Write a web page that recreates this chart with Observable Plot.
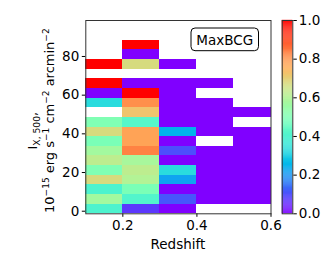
<!DOCTYPE html>
<html><head><meta charset="utf-8">
<script src="https://cdn.jsdelivr.net/npm/d3@7"></script>
<script src="https://cdn.jsdelivr.net/npm/@observablehq/plot@0.6"></script>
<style>
body{margin:0;background:#fff;}
#wrap{position:relative;width:332px;height:266px;font-family:"DejaVu Sans",sans-serif;}
#wrap svg{position:absolute;left:0;top:0;overflow:visible;}
</style></head><body><div id="wrap"></div>
<script>
// ---- data ----
const xEdges = [0.1, 0.2, 0.3, 0.4, 0.5, 0.6];
const yEdges = [-1.34, 3.65, 8.63, 13.62, 18.6, 23.59, 28.57, 33.56, 38.54, 43.53, 48.51, 53.5, 58.48, 63.47, 68.45, 73.44, 78.42, 83.41, 88.4];
// values per redshift column, rows from bottom to top (null = empty)
const col1 = [0.40, 0.57, 0.40, 0.67, 0.50, 0.62, 0.57, 0.49, 0.67, 0.50, null, 0.33, 0.0, 1.0, null, 1.0, null, null];
const col2 = [0.07, 0.41, 0.49, 0.60, 0.62, 0.58, 0.83, 0.78, 0.78, 0.42, 0.72, 0.81, 1.0, 0.0, null, 0.67, 0.0, 1.0];
const col3 = [0.0, 0.11, 0.0, 0.22, 0.33, 0.0, 0.10, 0.0, 0.25, 0.0, 0.0, 0.0, 0.0, 0.0, null, 0.0, null, null];
const col4 = [null, 0, 0, 0, 0, 0, 0, null, 0, 0, 0, 0, null, 0, null, null, null, null];
const col5 = [null, 0, 0, 0, 0, 0, 0, 0, 0, null, 0, null, null, null, null, null, null, null];
const columns = [col1, col2, col3, col4, col5];
const xTicks = [0.2, 0.4, 0.6];
const yTicks = [0, 20, 40, 60, 80];
const cbarTicks = [0, 0.2, 0.4, 0.6, 0.8, 1.0];
const xDomain = [0.1, 0.6];
const yDomain = [-1.34, 98.6];
const panelLabel = "MaxBCG";
const xLabel = "Redshift";

// matplotlib "rainbow" colormap
function rainbow(t) {
  t = Math.max(0, Math.min(1, t));
  const r = Math.min(1, Math.abs(2 * t - 0.5));
  const g = Math.max(0, Math.sin(Math.PI * t));
  const b = Math.max(0, Math.cos(Math.PI * t / 2));
  return `rgb(${Math.round(r * 255)},${Math.round(g * 255)},${Math.round(b * 255)})`;
}

const cells = [];
columns.forEach((col, i) => col.forEach((v, j) => {
  if (v != null) cells.push({x1: xEdges[i], x2: xEdges[i + 1], y1: yEdges[j], y2: yEdges[j + 1], v});
}));

const W = 332, H = 266, L = 85.3, R = 270.5, T = 20, B = 213.3;
const FONT = "'DejaVu Sans', sans-serif";
const colorOpts = {type: "linear", domain: [0, 1], interpolate: rainbow};

const main = Plot.plot({
  width: W, height: H,
  marginLeft: L, marginRight: W - R, marginTop: T, marginBottom: H - B,
  style: {fontFamily: FONT, fontSize: "13.5px", background: "transparent", color: "#000", overflow: "visible"},
  x: {domain: xDomain, ticks: xTicks, tickFormat: d3.format(".1f"), tickSize: 3.5, tickPadding: 3, label: null},
  y: {domain: yDomain, ticks: yTicks, tickSize: 3.5, tickPadding: 3, label: null},
  color: colorOpts,
  marks: [
    Plot.rect(cells, {x1: "x1", x2: "x2", y1: "y1", y2: "y2", fill: "v", inset: 0, shapeRendering: "crispEdges"}),
    Plot.frame({stroke: "#333", strokeWidth: 1})
  ]
});

const cbStops = d3.range(0, 1, 0.005);
const cbar = Plot.plot({
  width: W, height: H,
  marginLeft: 281.7, marginRight: W - 292.3, marginTop: T, marginBottom: H - B,
  style: {fontFamily: FONT, fontSize: "13.5px", background: "transparent", color: "#000", overflow: "visible"},
  x: {domain: [0, 1], axis: null},
  y: {domain: [0, 1], axis: "right", ticks: cbarTicks, tickFormat: d3.format(".1f"), tickSize: 3.5, tickPadding: 2.5, label: null},
  color: colorOpts,
  marks: [
    Plot.rect(cbStops, {x1: 0, x2: 1, y1: d => d, y2: d => d + 0.006, fill: d => d + 0.0025, inset: 0}),
    Plot.frame({stroke: "#333", strokeWidth: 1})
  ]
});

const wrap = document.getElementById("wrap");
wrap.appendChild(main);
wrap.appendChild(cbar);

const svg = d3.select(main);
// x label
svg.append("text").attr("x", (L + R) / 2).attr("y", 249).attr("text-anchor", "middle")
  .attr("font-family", FONT).attr("font-size", 13.5).attr("fill", "#000").text(xLabel);

// y label (two lines, rotated)
const yc = (T + B) / 2;
const l1 = svg.append("text").attr("transform", `translate(37,${yc + 14}) rotate(-90)`).attr("text-anchor", "middle")
  .attr("font-family", FONT).attr("font-size", 13).attr("fill", "#000");
l1.append("tspan").text("I");
l1.append("tspan").attr("font-size", 9.2).attr("dy", 3).text("X, 500");
l1.append("tspan").attr("dy", -3).text(",");

const l2 = svg.append("text").attr("transform", `translate(54,${yc + 4}) rotate(-90)`).attr("text-anchor", "middle")
  .attr("font-family", FONT).attr("font-size", 13).attr("fill", "#000");
const parts = [["10", false], ["−15", true], [" erg s", false], ["−1", true], [" cm", false], ["−2", true], [" arcmin", false], ["−2", true]];
let up = false;
for (const [s, sup] of parts) {
  const t = l2.append("tspan").text(s);
  if (sup) { t.attr("font-size", 9); if (!up) { t.attr("dy", -5); up = true; } }
  else { if (up) { t.attr("dy", 5); up = false; } }
}

// panel label box
const bx = 191, by = 28, bw = 67.5, bh = 22.7;
svg.append("rect").attr("x", bx).attr("y", by).attr("width", bw).attr("height", bh)
  .attr("rx", 4).attr("fill", "#fff").attr("stroke", "#000").attr("stroke-width", 1);
svg.append("text").attr("x", bx + bw / 2).attr("y", by + 16.5).attr("text-anchor", "middle")
  .attr("font-family", FONT).attr("font-size", 13.5).attr("fill", "#000").text(panelLabel);
</script>
</body></html>
